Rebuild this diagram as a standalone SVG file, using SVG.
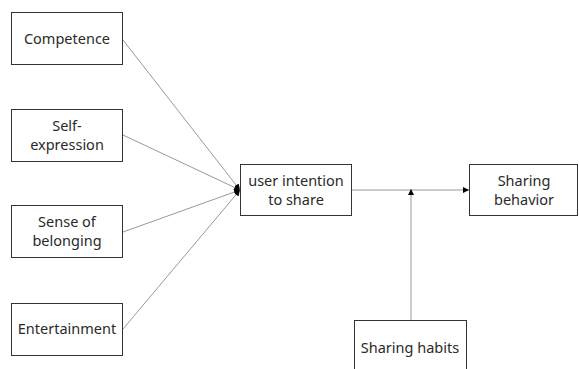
<svg xmlns="http://www.w3.org/2000/svg" width="579" height="369" viewBox="0 0 579 369">
<style>
.box{fill:#fff;stroke:#333;stroke-width:1}
.t{font-family:"Noto Sans","Liberation Sans",sans-serif;font-size:14.5px;fill:#2a2a2a;text-anchor:middle}
.c{stroke:#999;stroke-width:1;fill:none}
</style>
<defs>
<marker id="ah" viewBox="0 0 6 6" refX="6" refY="3" markerWidth="6" markerHeight="6" orient="auto" markerUnits="userSpaceOnUse">
<path d="M0,0 L6,3 L0,6 z" fill="#000"/>
</marker>
</defs>
<rect width="579" height="369" fill="#fff"/>
<g id="connectors">
<line class="c" x1="123" y1="40" x2="240" y2="190" marker-end="url(#ah)"/>
<line class="c" x1="123" y1="135" x2="240" y2="190" marker-end="url(#ah)"/>
<line class="c" x1="123" y1="232" x2="240" y2="190" marker-end="url(#ah)"/>
<line class="c" x1="123" y1="329" x2="240" y2="190" marker-end="url(#ah)"/>
<line class="c" x1="352" y1="190" x2="469" y2="190" marker-end="url(#ah)"/>
<line class="c" x1="411" y1="321" x2="411" y2="189" marker-end="url(#ah)"/>
</g>
<g id="competence">
<rect class="box" x="11.5" y="12.5" width="111" height="52"/>
<text class="t" x="67" y="43.5">Competence</text>
</g>
<g id="self-expression">
<rect class="box" x="11.5" y="109.5" width="111" height="52"/>
<text class="t" x="67" y="131">Self-</text>
<text class="t" x="67" y="150">expression</text>
</g>
<g id="sense-of-belonging">
<rect class="box" x="11.5" y="205.5" width="111" height="52"/>
<text class="t" x="67" y="227">Sense of</text>
<text class="t" x="67" y="246">belonging</text>
</g>
<g id="entertainment">
<rect class="box" x="11.5" y="303.5" width="111" height="52"/>
<text class="t" x="67" y="334">Entertainment</text>
</g>
<g id="user-intention">
<rect class="box" x="240.5" y="164.5" width="111" height="51"/>
<text class="t" x="296" y="186">user intention</text>
<text class="t" x="296" y="205">to share</text>
</g>
<g id="sharing-behavior">
<rect class="box" x="469.5" y="164.5" width="108" height="51"/>
<text class="t" x="524" y="186">Sharing</text>
<text class="t" x="524" y="205">behavior</text>
</g>
<g id="sharing-habits">
<rect class="box" x="354.5" y="320.5" width="112" height="60"/>
<text class="t" x="410" y="353">Sharing habits</text>
</g>
</svg>
